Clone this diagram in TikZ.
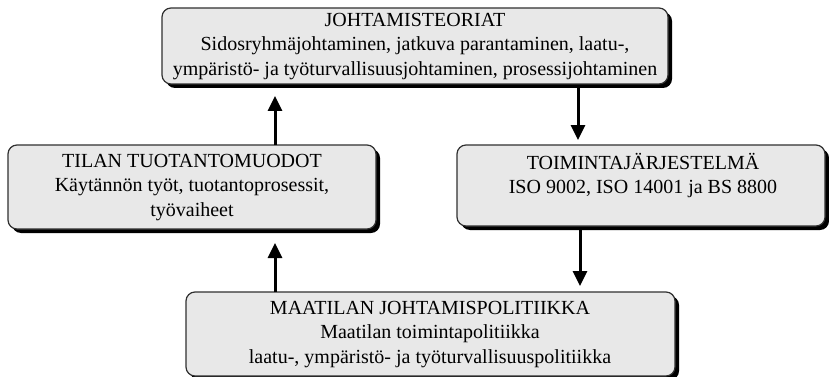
\documentclass[tikz,border=0pt]{standalone}
\usepackage{fontspec}
\setmainfont{Liberation Serif}
\usetikzlibrary{arrows.meta}
\definecolor{boxfill}{HTML}{E8E8E8}
\definecolor{boxline}{HTML}{303030}
\tikzset{
  panel/.style={draw=boxline, line width=1.2pt, fill=boxfill, rounded corners=9pt,
    inner sep=0pt},
  shade/.style={fill=black, rounded corners=9pt},
  txt/.style={align=center, font=\fontsize{20}{24.5}\selectfont, inner sep=0pt, anchor=north},
  flow/.style={line width=3pt, -{Triangle[width=14pt,length=15pt]}},
}
\begin{document}
\begin{tikzpicture}[x=1pt,y=-1pt]
\useasboundingbox (0,0) rectangle (829,377);
% drop shadows
\fill[shade] (166,12) rectangle (672,88);
\fill[shade] (12,149) rectangle (380,233);
\fill[shade] (461,149) rectangle (829,230);
\fill[shade] (190,296) rectangle (679,380);
% boxes
\draw[panel] (162,8) rectangle (668,84);
\draw[panel] (8,145) rectangle (376,229);
\draw[panel] (457,145) rectangle (825,226);
\draw[panel] (186,292) rectangle (675,376);
% box anchors
\coordinate (top) at (415,8);
\coordinate (topS) at (578,88);
\coordinate (topW) at (275,88);
\coordinate (left) at (192,145);
\coordinate (leftN) at (275,145);
\coordinate (leftS) at (275,233);
\coordinate (right) at (643,145);
\coordinate (rightN) at (578,145);
\coordinate (rightS) at (580,230);
\coordinate (bot) at (430,292);
\coordinate (botNW) at (275,292);
\coordinate (botNE) at (580,292);
% texts
\node[txt] (toptext) at ([yshift=-5]top) {JOHTAMISTEORIAT\\Sidosryhmäjohtaminen, jatkuva parantaminen, laatu-,\\ympäristö- ja työturvallisuusjohtaminen, prosessijohtaminen};
\node[txt] (lefttext) at ([yshift=-9]left) {TILAN TUOTANTOMUODOT\\Käytännön työt, tuotantoprosessit,\\työvaiheet};
\node[txt] (righttext) at ([yshift=-8]right) {TOIMINTAJÄRJESTELMÄ\\ISO 9002, ISO 14001 ja BS 8800};
\node[txt] (bottext) at ([yshift=-9]bot) {MAATILAN JOHTAMISPOLITIIKKA\\Maatilan toimintapolitiikka\\laatu-, ympäristö- ja työturvallisuuspolitiikka};
% arrows
\draw[flow] (leftN) -- ([yshift=-8]topW);
\draw[flow] (topS) -- ([yshift=5]rightN);
\draw[flow] (rightS) -- ([yshift=6]botNE);
\draw[flow] (botNW) -- ([yshift=-10]leftS);
\end{tikzpicture}
\end{document}
